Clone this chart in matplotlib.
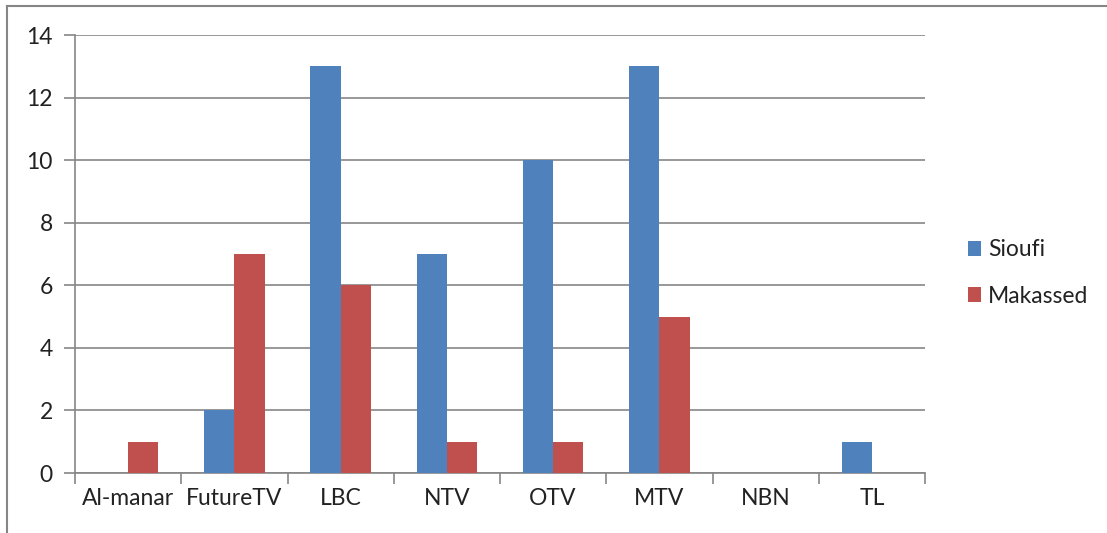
import matplotlib.pyplot as plt
import numpy as np
from matplotlib.lines import Line2D

channels = ['Al-manar', 'FutureTV', 'LBC', 'NTV', 'OTV', 'MTV', 'NBN', 'TL']
sioufi = [0, 2, 13, 7, 10, 13, 0, 1]
makassed = [1, 7, 6, 1, 1, 5, 0, 0]

plt.rcParams['font.family'] = ['Lato', 'DejaVu Sans']
grey = '#868686'
fs = 16.5

fig = plt.figure(figsize=(11.07, 5.33), dpi=100)
ax = fig.add_axes([75/1107, 1-473/533, 850/1107, 438/533])

x = np.arange(len(channels))
w = 1/3.5
ax.bar(x - w/2, sioufi, w, color='#4F81BD', label='Sioufi', zorder=3)
ax.bar(x + w/2, makassed, w, color='#C0504D', label='Makassed', zorder=3)

ax.set_xlim(-0.5, len(channels) - 0.5)
ax.set_ylim(0, 14)
ax.set_yticks(range(0, 15, 2))
ax.yaxis.grid(True, color=grey, linewidth=1.2, zorder=0)
ax.set_xticks(np.arange(-0.5, len(channels), 1))
ax.set_xticklabels([])
ax.set_xticks(x, minor=True)
ax.set_xticklabels(channels, minor=True)
ax.tick_params(axis='x', which='minor', length=0, pad=11, labelsize=fs, labelcolor='#222222')
ax.tick_params(axis='x', which='major', length=8, width=1.2, color=grey)
ax.tick_params(axis='y', length=8, width=1.2, color=grey, labelsize=fs, labelcolor='#222222', pad=8)
for s in ['top', 'right']:
    ax.spines[s].set_visible(False)
for s in ['left', 'bottom']:
    ax.spines[s].set_color(grey)
    ax.spines[s].set_linewidth(1.2)

fig.legend(loc='center left', bbox_to_anchor=(947/1107, 1-273/533), frameon=False,
           fontsize=fs, handlelength=0.6, handleheight=0.6, handletextpad=0.3,
           labelspacing=1.1, labelcolor='#222222')

# outer frame
fig.add_artist(Line2D([7/1107, 7/1107], [0, 1-6/533], color=grey, linewidth=1.5, transform=fig.transFigure))
fig.add_artist(Line2D([7/1107, 1], [1-6/533, 1-6/533], color=grey, linewidth=1.5, transform=fig.transFigure))

fig.savefig('out.png', dpi=100)
